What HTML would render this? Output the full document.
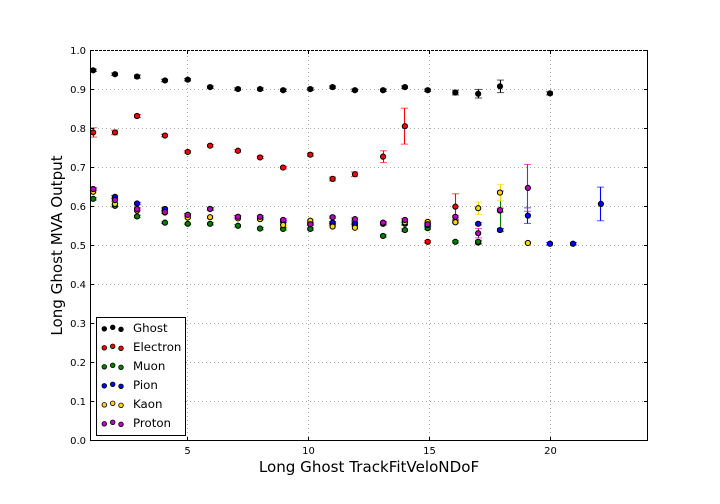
<!DOCTYPE html>
<html>
<head>
<meta charset="utf-8">
<title>Long Ghost MVA Output</title>
<style>
html,body{margin:0;padding:0;background:#fff;}
svg{display:block;font-family:"DejaVu Sans","Liberation Sans",sans-serif;}
</style>
</head>
<body>
<svg id="chart" xmlns="http://www.w3.org/2000/svg" width="720" height="504" viewBox="0 0 720 504">
  <rect x="0" y="0" width="720" height="504" fill="#fff"/>
  <g id="grid"></g>
  <g id="marks"></g>
  <rect x="90.5" y="50.5" width="557" height="390" fill="none" stroke="#000" stroke-width="1" shape-rendering="crispEdges"/>
  <g id="topgrid"></g>
  <g id="ticks"></g>
  <text x="369" y="472" font-size="15.1" text-anchor="middle" fill="#000">Long Ghost TrackFitVeloNDoF</text>
  <text x="0" y="0" font-size="15.1" text-anchor="middle" fill="#000" transform="translate(62,245.5) rotate(-90)">Long Ghost MVA Output</text>
  <g id="legend">
    <rect x="96.5" y="317.5" width="89" height="118" fill="#fff" stroke="#000" stroke-width="1" shape-rendering="crispEdges"/>
  </g>
</svg>
<script>
var xTickValues = [5, 10, 15, 20];
var yTickValues = [0, 0.1, 0.2, 0.3, 0.4, 0.5, 0.6, 0.7, 0.8, 0.9, 1];
var yTickLabels = ["0.0", "0.1", "0.2", "0.3", "0.4", "0.5", "0.6", "0.7", "0.8", "0.9", "1.0"];
var binCenters = [1.13, 2.03, 2.94, 4.09, 5.03, 5.95, 7.10, 8.01, 8.96, 10.08, 11.0, 11.92, 13.08, 13.98, 14.92, 16.06, 17.0, 17.9, 19.05, 19.96, 20.91, 22.06];

var ghostValues = [.949, .939, .933, .923, .925, .906, .901, .901, .898, .901, .906, .898, .898, .906, .898, .892, .889, .908, null, .890, null, null];
var ghostErrors = [.003, .003, .004, .003, .003, .003, .003, .003, .003, .003, .003, .003, .003, .003, .003, .006, .011, .016, null, .004, null, null];
var electronValues = [.790, .790, .832, .782, .740, .756, .743, .726, .700, .733, .671, .683, .728, .806, .510, .600, .508, null, null, null, null, null];
var electronErrors = [.012, .006, .004, .003, .003, .003, .003, .003, .003, .004, .005, .006, .015, .046, .003, .033, .004, null, null, null, null, null];
var muonValues = [.620, .602, .575, .559, .556, .556, .551, .544, .543, .543, .555, .553, .525, .540, .545, .510, .510, .590, null, null, null, null];
var muonErrors = [.003, .003, .003, .002, .002, .003, .003, .003, .003, .003, .003, .003, .003, .003, .003, .003, .004, .050, null, null, null, null];
var pionValues = [.645, .625, .608, .594, .579, .594, .574, .570, .562, .556, .559, .558, .556, .556, .553, .561, .556, .540, .577, .505, .505, .607];
var pionErrors = [.003, .003, .003, .003, .003, .003, .003, .003, .003, .003, .003, .003, .003, .003, .003, .003, .003, .004, .020, .003, .003, .043];
var kaonValues = [.638, .607, .590, .585, .572, .573, .570, .568, .553, .564, .549, .546, .558, .560, .561, .560, .596, .636, .507, null, null, null];
var kaonErrors = [.003, .003, .003, .003, .003, .003, .003, .003, .003, .003, .003, .003, .003, .003, .003, .003, .016, .021, .003, null, null, null];
var protonValues = [.645, .617, .594, .586, .579, .594, .574, .574, .566, .555, .573, .568, .559, .566, .555, .574, .532, .591, .648, null, null, null];
var protonErrors = [.003, .003, .003, .003, .003, .003, .003, .003, .003, .003, .003, .003, .003, .003, .003, .003, .012, .005, .060, null, null, null];

var seriesNames = ["Ghost", "Electron", "Muon", "Pion", "Kaon", "Proton"];
var seriesColors = ["#000000", "#ff0000", "#007f00", "#0000ff", "#ffd700", "#bf00bf"];
var seriesValues = [ghostValues, electronValues, muonValues, pionValues, kaonValues, protonValues];
var seriesErrors = [ghostErrors, electronErrors, muonErrors, pionErrors, kaonErrors, protonErrors];

var NS = "http://www.w3.org/2000/svg";
var plotLeft = 90, plotRight = 648, plotTop = 50.4, plotBottom = 441;
function xScale(v) { return plotLeft + (v - 1) / 23 * (plotRight - plotLeft); }
function yScale(v) { return plotBottom - v * (plotBottom - plotTop); }
function snap(p) { return Math.floor(p) + 0.5; }
function make(tag, parent, attrs) {
  var el = document.createElementNS(NS, tag);
  for (var k in attrs) el.setAttribute(k, attrs[k]);
  parent.appendChild(el);
  return el;
}

var gridG = document.getElementById("grid");
var topG = document.getElementById("topgrid");
var ticksG = document.getElementById("ticks");
var marksG = document.getElementById("marks");
var legendG = document.getElementById("legend");
var gridStyle = {stroke: "#a8a8a8", "stroke-width": 1, "stroke-dasharray": "1 3", fill: "none", "shape-rendering": "crispEdges"};

function withStyle(base) {
  var o = {};
  for (var k in gridStyle) o[k] = gridStyle[k];
  for (var j in base) o[j] = base[j];
  return o;
}

xTickValues.forEach(function (t) {
  var x = snap(xScale(t));
  var g = make("line", gridG, withStyle({x1: x, x2: x, y1: plotBottom, y2: plotTop}));
  
  
  var a = make("line", ticksG, {x1: x, x2: x, y1: 441, y2: 437, stroke: "#000", "shape-rendering": "crispEdges"});
  
  
  var b = make("line", ticksG, {x1: x, x2: x, y1: 50, y2: 54, stroke: "#000", "shape-rendering": "crispEdges"});
  
  
  var l = make("text", ticksG, {x: x, y: 454, "font-size": 10, "text-anchor": "middle", fill: "#000"});
  
  
  l.textContent = String(t);
});

yTickValues.forEach(function (t, i) {
  var y = snap(yScale(t));
  if (i === yTickValues.length - 1) y = 50.5;
  if (i === 0) y = 440.5;
  var parent = (i === yTickValues.length - 1) ? topG : gridG;
  var attrs = {x1: plotLeft, x2: plotRight, y1: y, y2: y};
  if (i === yTickValues.length - 1) attrs.stroke = "#fff";
  var g = make("line", parent, withStyle(attrs));
  
  
  var a = make("line", ticksG, {x1: 90, x2: 94, y1: y, y2: y, stroke: "#000", "shape-rendering": "crispEdges"});
  
  
  var b = make("line", ticksG, {x1: 648, x2: 644, y1: y, y2: y, stroke: "#000", "shape-rendering": "crispEdges"});
  
  
  var l = make("text", ticksG, {x: 86, y: y + 3.5, "font-size": 10, "text-anchor": "end", fill: "#000"});
  
  
  l.textContent = yTickLabels[i];
});

seriesNames.forEach(function (name, s) {
  var color = seriesColors[s];
  var group = make("g", marksG, {});
  
  
  seriesValues[s].forEach(function (v, i) {
    if (v === null) return;
    var e = seriesErrors[s][i];
    var x = snap(xScale(binCenters[i]));
    var y1 = yScale(v - e), y2 = yScale(v + e);
    var bar = make("line", group, {x1: x, x2: x, y1: y1, y2: y2, stroke: color, "stroke-width": 1.1});
    
    
    var capLow = make("line", group, {x1: x - 3.6, x2: x + 3.6, y1: y1, y2: y1, stroke: color, "stroke-width": 1.1, opacity: 0.6});
    
    
    var capHigh = make("line", group, {x1: x - 3.6, x2: x + 3.6, y1: y2, y2: y2, stroke: color, "stroke-width": 1.1, opacity: 0.6});
    
    
  });
  seriesValues[s].forEach(function (v, i) {
    if (v === null) return;
    var dot = make("circle", group, {cx: xScale(binCenters[i]), cy: yScale(v), r: 2.6, fill: color, stroke: "#000", "stroke-width": 1});
    
    
  });

  var rowY = 328.5 + s * 19;
  [[104.3, 0.3], [112.7, -1.2], [121, 0.8]].forEach(function (m) {
    var d = make("circle", legendG, {cx: m[0], cy: rowY + m[1], r: 2.3, fill: color, stroke: "#000", "stroke-width": 0.8});
    
    
  });
  var t = make("text", legendG, {x: 133, y: rowY + 3.5, "font-size": 11.8, fill: "#000"});
  
  
  t.textContent = name;
});
</script>
</body>
</html>
